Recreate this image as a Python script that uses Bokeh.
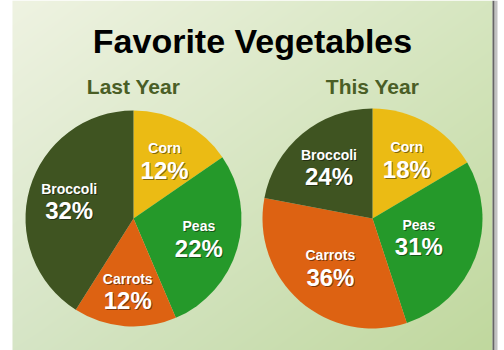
import numpy as np
from bokeh.plotting import figure
from bokeh.models import Range1d
from bokeh.core.properties import value
from bokeh.embed import file_html
from bokeh.resources import INLINE

# ---- data ----
categories = ["Corn", "Peas", "Carrots", "Broccoli"]
last_year = [12, 22, 12, 32]
this_year = [18, 31, 36, 24]
colors = ["#ebbb14", "#25992a", "#dd6212", "#3f5421"]
title = "Favorite Vegetables"
subtitles = ["Last Year", "This Year"]

W, H = 504, 350
p = figure(width=W, height=H, x_range=Range1d(0, W), y_range=Range1d(0, H),
           output_backend="svg", toolbar_location=None, min_border=0)
p.axis.visible = False
p.grid.visible = False
p.outline_line_color = None
p.background_fill_color = "white"
p.border_fill_color = "white"

# slide background gradient (diagonal)
sx0, sx1 = 12, 492
gw, gh = sx1 - sx0, H
xs = np.linspace(0, 1, gw)[None, :]
ys = np.linspace(0, 1, gh)[:, None]  # 0 = bottom
tl = np.array([239, 243, 226]); tr = np.array([214, 230, 192])
bl = np.array([214, 229, 198]); br = np.array([192, 216, 158])
top = tl[None, None, :] * (1 - xs[..., None]) + tr[None, None, :] * xs[..., None]
bot = bl[None, None, :] * (1 - xs[..., None]) + br[None, None, :] * xs[..., None]
t = ys[..., None]
rgb = bot * (1 - t) + top * t
img = np.empty((gh, gw), dtype=np.uint32)
view = img.view(dtype=np.uint8).reshape((gh, gw, 4))
view[..., 0] = rgb[..., 0].astype(np.uint8)
view[..., 1] = rgb[..., 1].astype(np.uint8)
view[..., 2] = rgb[..., 2].astype(np.uint8)
view[..., 3] = 255
p.image_rgba(image=[img], x=sx0, y=0, dw=gw, dh=gh)

# right shadow
p.quad(left=sx1, right=sx1 + 2, bottom=0, top=H, fill_color="#555555", line_color=None, fill_alpha=0.9)
p.quad(left=sx1 + 2, right=sx1 + 5, bottom=0, top=H, fill_color="#999999", line_color=None, fill_alpha=0.6)

# title
p.text(x=[252], y=[H - 40], text=[title], text_font=value("Liberation Sans"),
       text_font_style="bold", text_font_size="34px", text_color="black",
       text_align="center", text_baseline="middle")
# subtitles
centers = [(133, H - 218, 108), (372, H - 218, 110)]
for (cx, cy, r), s in zip(centers, subtitles):
    p.text(x=[cx], y=[H - 86], text=[s], text_font=value("Liberation Sans"),
           text_font_style="bold", text_font_size="21px", text_color="#4a5e26",
           text_align="center", text_baseline="middle")

label_r = [[0.62, 0.63, 0.66, 0.62], [0.63, 0.45, 0.58, 0.62]]

for (cx, cy, r), vals, lr in zip(centers, [last_year, this_year], label_r):
    v = np.array(vals, dtype=float)
    frac = v / v.sum()
    cum = np.concatenate([[0], np.cumsum(frac)]) * 2 * np.pi
    start = np.pi / 2 - cum[:-1]
    end = np.pi / 2 - cum[1:]
    p.wedge(x=cx, y=cy, radius=r, start_angle=start, end_angle=end,
            direction="clock", fill_color=colors, line_color=None)
    mid = np.pi / 2 - (cum[:-1] + cum[1:]) / 2
    lx = cx + np.array(lr) * r * np.cos(mid)
    ly = cy + np.array(lr) * r * np.sin(mid)
    pct = [f"{int(x)}%" for x in vals]
    for dx, dy, col, a in [(1, -1, "black", 0.45), (0, 0, "white", 1.0)]:
        p.text(x=lx + dx, y=ly + 11 + dy, text=categories, text_font=value("Liberation Sans"),
               text_font_style="bold", text_font_size="14px", text_color=col, text_alpha=a,
               text_align="center", text_baseline="middle")
        p.text(x=lx + dx, y=ly - 11 + dy, text=pct, text_font=value("Liberation Sans"),
               text_font_style="bold", text_font_size="24px", text_color=col, text_alpha=a,
               text_align="center", text_baseline="middle")

open("out.html", "w").write(file_html(p, INLINE))
